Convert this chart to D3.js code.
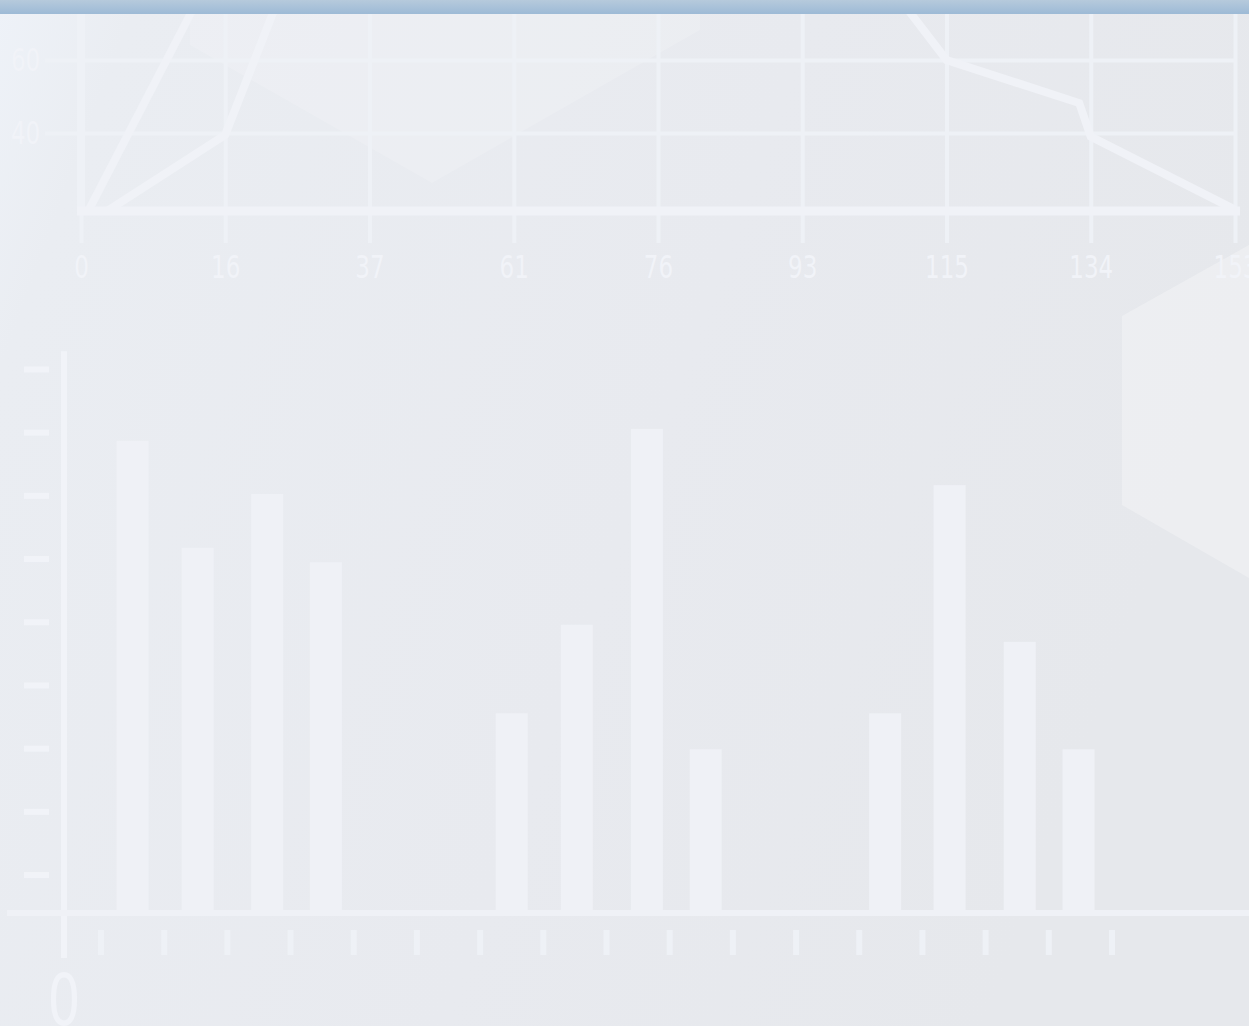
<!DOCTYPE html>
<meta charset="utf-8">
<head>
  <title>Background charts</title>
</head>

<style>
  body {
    margin: 0;
    overflow: hidden;
  }

  text {
    font-family: "Liberation Sans Narrow", "DejaVu Sans Condensed", sans-serif;
    fill: #f1f3f8;
  }
</style>

<body>
  <script src="https://d3js.org/d3.v7.min.js"></script>
  <div id="chart"></div>
  <script>

  // top line chart
  var topLabels = ["0", "16", "37", "61", "76", "93", "115", "134", "153"];
  var topYTicks = [40, 60];
  var topMin = 18.6;
  var lineA = [{i: 0.05, v: 18.6}, {i: 1.0, v: 91}];
  var lineB = [{i: 0.18, v: 18.6}, {i: 1.0, v: 39.5}, {i: 1.5, v: 90}];
  var lineC = [{i: 5.5, v: 85.8}, {i: 6.0, v: 60}, {i: 6.92, v: 48.2}, {i: 7.0, v: 39}, {i: 8.0, v: 19}];

  // bottom bar chart
  var barPos = [0.5, 1.53, 2.63, 3.56, 6.5, 7.53, 8.64, 9.57, 12.41, 13.43, 14.54, 15.47];
  var barValues = [74.7, 57.8, 66.3, 55.5, 31.6, 45.6, 76.6, 25.9, 31.6, 67.7, 42.9, 25.9];
  var barYTicks = [6, 16, 26, 36, 46, 56, 66, 76, 86];
  var barXTicks = [0, 1, 2, 3, 4, 5, 6, 7, 8, 9, 10, 11, 12, 13, 14, 15, 16];
  var barYTop = 88.9;
  var barLabel = "0";

  var width = 1249, height = 1026;
  var light = "#eef1f6";

  var svg = d3.select("#chart")
    .append("svg")
    .attr("width", width)
    .attr("height", height);

  var defs = svg.append("defs");

  var bg = defs.append("linearGradient")
    .attr("id", "bg")
    .attr("x1", 0).attr("y1", 0)
    .attr("x2", 1).attr("y2", 0.3);
  bg.append("stop").attr("offset", "0%").attr("stop-color", "#eef2f8");
  bg.append("stop").attr("offset", "10%").attr("stop-color", "#eaedf2");
  bg.append("stop").attr("offset", "60%").attr("stop-color", "#e8eaef");
  bg.append("stop").attr("offset", "100%").attr("stop-color", "#e6e8ec");

  var stripe = defs.append("linearGradient")
    .attr("id", "topbar")
    .attr("x1", 0).attr("y1", 0)
    .attr("x2", 0).attr("y2", 1);
  stripe.append("stop").attr("offset", "0%").attr("stop-color", "#b6cadc");
  stripe.append("stop").attr("offset", "100%").attr("stop-color", "#9dbad6");

  defs.append("clipPath")
    .attr("id", "topclip")
    .append("rect")
    .attr("x", 0).attr("y", 14)
    .attr("width", width).attr("height", 220);

  svg.append("rect")
    .attr("width", width)
    .attr("height", height)
    .attr("fill", "url(#bg)");

  // soft decorative shapes
  svg.append("polygon")
    .attr("points", [[190, 14], [190, 45], [432, 183], [700, 30], [700, 14]].join(" "))
    .attr("fill", "white")
    .attr("opacity", 0.15);

  svg.append("polygon")
    .attr("points", [[1122, 316], [1249, 245], [1249, 578], [1122, 505]].join(" "))
    .attr("fill", "white")
    .attr("opacity", 0.28);

  // ---- top chart ----
  var xTop = d3.scaleLinear().domain([0, topLabels.length - 1]).range([81, 1235]);
  var xTopPoint = d3.scalePoint().domain(topLabels).range([81, 1235]);
  var yTop = d3.scaleLinear().domain([40, 60]).range([133, 60]);

  var topG = svg.append("g");

  var xAxis = topG.append("g")
    .attr("transform", "translate(0,243)")
    .call(d3.axisBottom(xTopPoint).tickSizeInner(-229).tickSizeOuter(0).tickPadding(12));
  xAxis.select(".domain").remove();
  xAxis.selectAll("line").attr("stroke", light).attr("stroke-width", 4);
  xAxis.selectAll("text")
    .attr("fill", "#f1f3f8")
    .style("font-size", "32px")
    .attr("transform", "scale(0.8,1)");

  var yAxis = topG.append("g")
    .attr("transform", "translate(45,0)")
    .call(d3.axisLeft(yTop).tickValues(topYTicks).tickSizeInner(-1190).tickSizeOuter(0).tickPadding(5));
  yAxis.select(".domain").remove();
  yAxis.selectAll("line").attr("stroke", light).attr("stroke-width", 4);
  yAxis.selectAll("text")
    .attr("fill", "#f4f6fa")
    .style("font-size", "32px")
    .attr("transform", "scale(0.8,1)")
    .attr("x", -6);

  topG.append("line")
    .attr("x1", xTop(0)).attr("x2", xTop(0))
    .attr("y1", 14).attr("y2", yTop(topMin))
    .attr("stroke", light).attr("stroke-width", 8);

  var line = d3.line()
    .x(function(d) { return xTop(d.i); })
    .y(function(d) { return yTop(d.v); });

  topG.append("g")
    .attr("clip-path", "url(#topclip)")
    .selectAll("path")
    .data([lineA, lineB, lineC])
    .enter()
    .append("path")
    .attr("d", line)
    .attr("fill", "none")
    .attr("stroke", "#f0f2f7")
    .attr("stroke-width", 8)
    .attr("stroke-linejoin", "miter");

  topG.append("line")
    .attr("x1", 77).attr("x2", 1240)
    .attr("y1", yTop(topMin)).attr("y2", yTop(topMin))
    .attr("stroke", "#f0f2f7").attr("stroke-width", 9);

  // ---- bottom chart ----
  var xBar = d3.scaleLinear().domain([0, 16]).range([101, 1112]);
  var yBar = d3.scaleLinear().domain([0, 100]).range([913, 281]);
  var barW = 32;

  var bottomG = svg.append("g");

  bottomG.selectAll("rect.bar")
    .data(barValues)
    .enter()
    .append("rect")
    .attr("class", "bar")
    .attr("x", function(d, i) { return xBar(barPos[i]) - barW / 2; })
    .attr("y", function(d) { return yBar(d); })
    .attr("width", barW)
    .attr("height", function(d) { return yBar(0) - yBar(d); })
    .attr("fill", "#eff1f6");

  bottomG.selectAll("line.ytick")
    .data(barYTicks)
    .enter()
    .append("line")
    .attr("class", "ytick")
    .attr("x1", 24).attr("x2", 49)
    .attr("y1", function(d) { return yBar(d); })
    .attr("y2", function(d) { return yBar(d); })
    .attr("stroke", "#f1f3f8").attr("stroke-width", 6);

  bottomG.selectAll("line.xtick")
    .data(barXTicks)
    .enter()
    .append("line")
    .attr("class", "xtick")
    .attr("x1", function(d) { return xBar(d); })
    .attr("x2", function(d) { return xBar(d); })
    .attr("y1", 930).attr("y2", 955)
    .attr("stroke", light).attr("stroke-width", 6);

  bottomG.append("line")
    .attr("x1", 64).attr("x2", 64)
    .attr("y1", yBar(barYTop)).attr("y2", 958)
    .attr("stroke", "#f1f3f8").attr("stroke-width", 6);

  bottomG.append("line")
    .attr("x1", 7).attr("x2", width)
    .attr("y1", yBar(0)).attr("y2", yBar(0))
    .attr("stroke", "#eff1f6").attr("stroke-width", 6);

  bottomG.append("text")
    .attr("transform", "translate(64,1025) scale(0.8,1)")
    .attr("text-anchor", "middle")
    .style("font-size", "72px")
    .text(barLabel);

  // title strip
  svg.append("rect")
    .attr("width", width)
    .attr("height", 14)
    .attr("fill", "url(#topbar)");

  </script>
</body>
</html>
